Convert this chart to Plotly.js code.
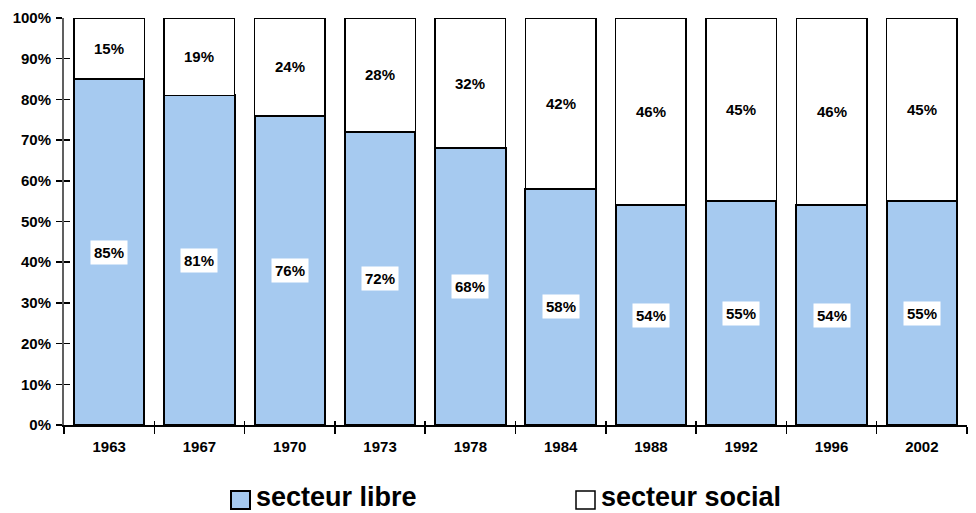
<!DOCTYPE html>
<html><head><meta charset="utf-8">
<script src="https://cdn.plot.ly/plotly-3.0.1.min.js"></script>
<style>body{margin:0;background:#fff}#c{width:976px;height:513px}</style>
</head><body><div id="c"></div>
<script>
const years = ['1963','1967','1970','1973','1978','1984','1988','1992','1996','2002'];
const libre = [85, 81, 76, 72, 68, 58, 54, 55, 54, 55];
const social = [15, 19, 24, 28, 32, 42, 46, 45, 46, 45];
const seriesNames = ['secteur libre', 'secteur social'];
const yTicks = [0,10,20,30,40,50,60,70,80,90,100];

const F = 'Liberation Sans, Arial, sans-serif';
const traces = [
  {type:'bar', x:years, y:libre, name:seriesNames[0],
   marker:{color:'#A6CAF0', line:{color:'#000', width:2}}, hoverinfo:'skip'},
  {type:'bar', x:years, y:social, name:seriesNames[1],
   marker:{color:'#FFFFFF', line:{color:'#000', width:1.5}}, hoverinfo:'skip'}
];
const ann = [];
years.forEach((yr,i)=>{
  ann.push({x:i, y:libre[i]/2, text:'<b>'+libre[i]+'%</b>', showarrow:false,
    bgcolor:'#fff', borderpad:3, font:{family:F, size:15, color:'#000'}});
  ann.push({x:i, y:libre[i]+social[i]/2, text:'<b>'+social[i]+'%</b>', showarrow:false,
    font:{family:F, size:15, color:'#000'}});
});
// manual legend
ann.push({xref:'paper', yref:'paper', x:(255-64)/903, y:-(497-425)/407, xanchor:'left', yanchor:'middle',
  height:22, valign:'middle', borderpad:0,
  text:'<b>'+seriesNames[0]+'</b>', showarrow:false, font:{family:F, size:27, color:'#000'}});
ann.push({xref:'paper', yref:'paper', x:(600-64)/903, y:-(497-425)/407, xanchor:'left', yanchor:'middle',
  height:22, valign:'middle', borderpad:0,
  text:'<b>'+seriesNames[1]+'</b>', showarrow:false, font:{family:F, size:27, color:'#000'}});
const px = v => (v-64)/903, py = v => (425-v)/407;
const shapes = [
  {type:'rect', xref:'paper', yref:'paper', x0:px(231), x1:px(250), y0:py(491), y1:py(509),
   fillcolor:'#A6CAF0', line:{color:'#000', width:2}},
  {type:'rect', xref:'paper', yref:'paper', x0:px(576), x1:px(595), y0:py(491), y1:py(509),
   fillcolor:'#fff', line:{color:'#000', width:1.5}}
];
const layout = {
  width:976, height:513, barmode:'stack', bargap:0.22, showlegend:false,
  margin:{l:64, r:9, t:18, b:88}, paper_bgcolor:'#fff', plot_bgcolor:'#fff',
  xaxis:{type:'category', range:[-0.5, years.length-0.5], autorange:false,
    showline:true, linecolor:'#000', linewidth:2, ticks:'outside',
    tickson:'boundaries', ticklen:7, tickcolor:'#000', tickwidth:1.5, tickangle:0,
    ticklabelstandoff:7,
    tickfont:{family:F, size:15, color:'#000', weight:'bold'}, showgrid:false, zeroline:false},
  xaxis2:{type:'category', overlaying:'x', categoryarray:years, categoryorder:'array',
    range:[-0.5, years.length-0.5], autorange:false, matches:'x',
    ticks:'inside', tickson:'boundaries', ticklen:4, tickcolor:'#000', tickwidth:1.5,
    showticklabels:false, showline:false, showgrid:false, zeroline:false},
  yaxis:{range:[0,100], autorange:false, tickvals:yTicks, ticktext:yTicks.map(v=>'<b>'+v+'%</b>'),
    showline:true, linecolor:'#606060', linewidth:2, ticks:'outside', ticklen:6,
    ticklabelstandoff:2,
    tickcolor:'#000', tickwidth:1.5, tickfont:{family:F, size:15, color:'#000'},
    showgrid:false, zeroline:false},
  yaxis2:{overlaying:'y', range:[0,100], autorange:false, tickvals:yTicks,
    ticks:'inside', ticklen:6, tickcolor:'#000', tickwidth:1.5,
    showticklabels:false, showline:false, showgrid:false, zeroline:false},
  annotations:ann, shapes:shapes
};
// invisible helper trace to host the secondary tick axes
traces.push({type:'bar', x:years, y:years.map(()=>null), xaxis:'x2', yaxis:'y2',
  showlegend:false, hoverinfo:'skip'});
Plotly.newPlot('c', traces, layout, {displayModeBar:false, staticPlot:true});
</script></body></html>
